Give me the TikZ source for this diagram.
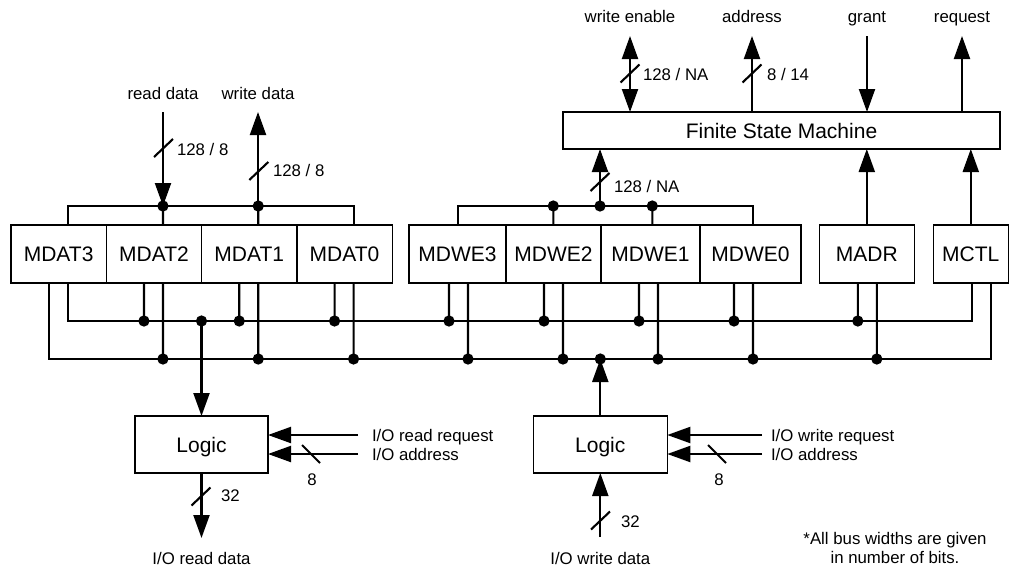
\documentclass[tikz,border=0pt]{standalone}
\usepackage{fontspec}
\setmainfont{Liberation Sans}
\usetikzlibrary{arrows.meta,positioning}

\begin{document}
\begin{tikzpicture}[x=1pt,y=-1pt,node distance=0pt,>={Triangle[length=23pt,width=16pt]},
  every node/.style={inner sep=0pt,outer sep=0pt},
  box/.style={draw,line width=1.2pt,text height=15pt,text depth=0pt,font=\fontsize{21}{25}\selectfont},
  reg/.style={box,minimum height=58pt},
  lbl/.style={text height=12pt,text depth=0pt,font=\fontsize{16.8}{20}\selectfont},
  wire/.style={line width=2.1pt}]
\useasboundingbox (0,0) rectangle (1018,568);
\coordinate (tbus) at (0,206);
\coordinate (bus1) at (0,321);
\coordinate (bus2) at (0,359);

% registers
\node[reg,minimum width=95.3pt] (MDAT3) at (58.65,254) {MDAT3};
\node[reg,minimum width=95.3pt,right=of MDAT3] (MDAT2) {MDAT2};
\node[reg,minimum width=95.3pt,right=of MDAT2] (MDAT1) {MDAT1};
\node[reg,minimum width=95.3pt,right=of MDAT1] (MDAT0) {MDAT0};
\node[reg,minimum width=97pt] (MDWE3) at (457.5,254) {MDWE3};
\node[reg,minimum width=95pt,right=of MDWE3] (MDWE2) {MDWE2};
\node[reg,minimum width=99pt,right=of MDWE2] (MDWE1) {MDWE1};
\node[reg,minimum width=101pt,right=of MDWE1] (MDWE0) {MDWE0};
\node[reg,minimum width=95pt] (MADR) at (866.8,254) {MADR};
\node[reg,minimum width=75pt] (MCTL) at (970.8,254) {MCTL};

\node[box,minimum width=437pt,minimum height=37pt] (fsm) at (781.5,130.5) {Finite State Machine};
\node[box,minimum width=133pt,minimum height=57pt] (lgr) at (201.5,444.5) {Logic};
\node[box,minimum width=134pt,minimum height=57pt] (lgw) at (600.3,444.5) {Logic};

% buses under the registers
\draw[wire] ([xshift=-10pt]MDAT3.south) -- ++(0,76) -| ([xshift=20.2pt]MCTL.south);
\draw[wire] ([xshift=9pt]MDAT3.south) -- ++(0,38) -| ([xshift=1.2pt]MCTL.south);
\foreach \n/\l/\r in {MDAT2/-10/9,MDAT1/-10/9,MDAT0/-10/9,MDWE3/-8.5/10.5,MDWE2/-9.5/9.5,MDWE1/-11.5/7.5,MDWE0/-16.5/2.5,MADR/-9/10}{
  \filldraw[wire] ([xshift=\l pt]\n.south) -- ++(0,38) circle (4.5pt);
  \filldraw[wire] ([xshift=\r pt]\n.south) -- ++(0,76) circle (4.5pt);
}

% buses over the registers
\draw[wire] ([xshift=9pt]MDAT3.north) -- ++(0,-19) -| ([xshift=9pt]MDAT0.north);
\draw[wire] ([xshift=0.2pt]MDWE3.north) -- ++(0,-19) -| ([xshift=2.5pt]MDWE0.north);
\foreach \n/\t in {MDAT2/9,MDAT1/9,MDWE2/-0.2,MDWE1/1.8}
  \filldraw[wire] ([xshift=\t pt]\n.north) -- ++(0,-19) circle (4.5pt);

% read / write data
\coordinate (rd) at (163,112);
\coordinate (wd) at (258,112);
\draw[wire,->] (rd) -- (rd |- tbus);
\draw[wire,->] (wd |- tbus) -- (wd);
\node[lbl,above=13pt of rd] (rdl) {read data};
\node[lbl,above=13pt of wd] (wdl) {write data};
\node[lbl,anchor=west] (rdw) at (177,149.5) {128 / 8};
\node[lbl,anchor=west] (wdw) at (273,170.5) {128 / 8};

% finite state machine
\coordinate (wetap) at (600,206);
\draw[wire,->] (wetap) -- (wetap |- fsm.south);
\filldraw[wire] (wetap) circle (4.5pt);
\draw[wire,->] (MADR.north) -- (MADR.north |- fsm.south);
\draw[wire,->] (MCTL.north) -- (MCTL.north |- fsm.south);
\node[lbl,anchor=west] (mdww) at (614,186) {128 / NA};

\coordinate (we) at (630,36);
\coordinate (adr) at (752,36);
\coordinate (gnt) at (867,36);
\coordinate (req) at (962,36);
\draw[wire,<->] (we) -- (we |- fsm.north);
\draw[wire,->] (adr |- fsm.north) -- (adr);
\draw[wire,->] (gnt) -- (gnt |- fsm.north);
\draw[wire,->] (req |- fsm.north) -- (req);
\node[lbl,above=14pt of we] (wel) {write enable};
\node[lbl,above=14pt of adr] (adrl) {address};
\node[lbl,above=14pt of gnt] (gntl) {grant};
\node[lbl,above=14pt of req] (reql) {request};
\node[lbl,anchor=west] (wew) at (643,74) {128 / NA};
\node[lbl,anchor=west] (adrw) at (767,74) {8 / 14};

% I/O logic
\draw[wire,->] (lgr.north |- bus1) -- (lgr.north);
\filldraw[wire] (lgr.north |- bus1) circle (4.5pt);
\draw[wire,->] (lgw.north) -- (lgw.north |- bus2);
\filldraw[wire] (lgw.north |- bus2) circle (4.5pt);

\coordinate (rreq) at (358,435);
\coordinate (radr) at (358,454);
\coordinate (wreq) at (762,435);
\coordinate (wadr) at (762,454);
\draw[wire,->] (rreq) -- (rreq -| lgr.east);
\draw[wire,->] (radr) -- (radr -| lgr.east);
\draw[wire,->] (wreq) -- (wreq -| lgw.east);
\draw[wire,->] (wadr) -- (wadr -| lgw.east);
\node[lbl,right=14pt of rreq] (rreql) {I/O read request};
\node[lbl,right=14pt of radr] (radrl) {I/O address};
\node[lbl,right=9pt of wreq] (wreql) {I/O write request};
\node[lbl,right=9pt of wadr] (wadrl) {I/O address};
\node[lbl] (radrw) at (312,479) {8};
\node[lbl] (wadrw) at (719,479) {8};

\coordinate (iord) at (201.5,538);
\coordinate (iowd) at (600.3,537);
\draw[wire,->] (lgr.south) -- (iord);
\draw[wire,->] (iowd) -- (lgw.south);
\node[lbl,below=14pt of iord] (iordl) {I/O read data};
\node[lbl,below=15pt of iowd] (iowdl) {I/O write data};
\node[lbl,anchor=west] (iordw) at (221,495.5) {32};
\node[lbl,anchor=west] (iowdw) at (621,521) {32};

% bus width marks
\foreach \x/\y in {163.5/148,258.8/171,630/73.5,752/73.5,600/182,201/496.5,600.5/520.5}
  \draw[wire] (\x,\y) ++(-9.5,9) -- ++(19,-18);
\foreach \x/\y in {311/454,717/454}
  \draw[wire] (\x,\y) ++(-9,-9) -- ++(18,18);

\node[font=\fontsize{16.8}{19}\selectfont,align=center] (note) at (895,548.3) {*All bus widths are given\\in number of bits.};
\end{tikzpicture}
\end{document}
